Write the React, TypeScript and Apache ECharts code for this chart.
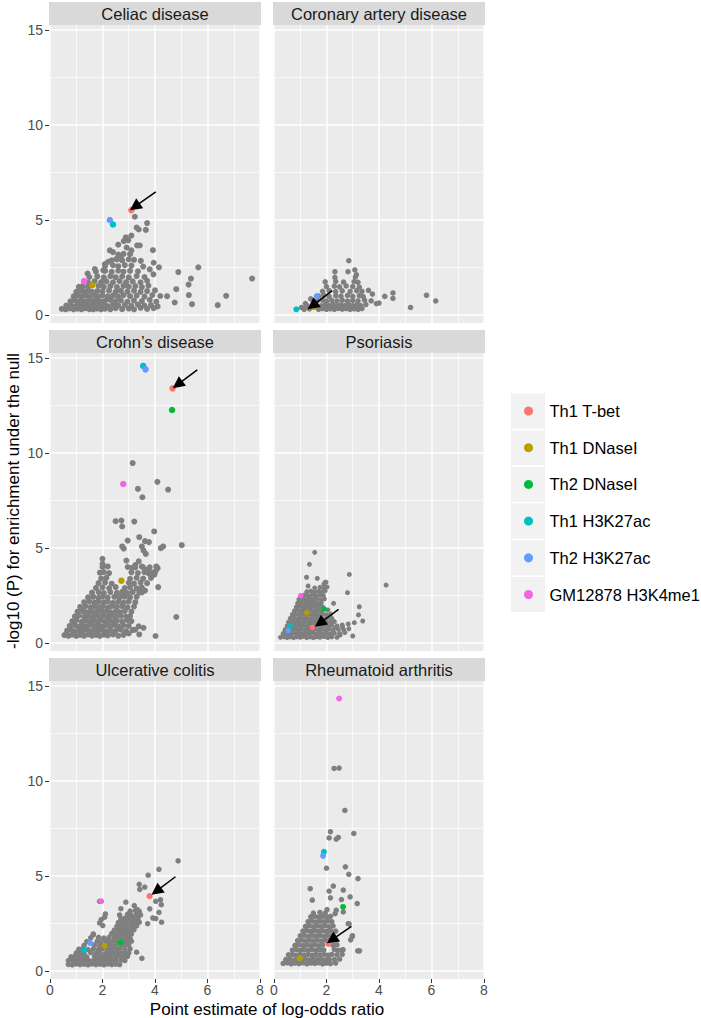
import React, { useEffect, useRef } from "react";
import * as echarts from "echarts";

const FONT = "'Liberation Sans', Arial, Helvetica, sans-serif";

// ---------- categories ----------
const facetNames = [
  "Celiac disease",
  "Coronary artery disease",
  "Crohn’s disease",
  "Psoriasis",
  "Ulcerative colitis",
  "Rheumatoid arthritis",
];

const categories = [
  "Th1 T-bet",
  "Th1 DNaseI",
  "Th2 DNaseI",
  "Th1 H3K27ac",
  "Th2 H3K27ac",
  "GM12878 H3K4me1",
];
const categoryColors = ["#F8766D", "#B79F00", "#00BA38", "#00BFC4", "#619CFF", "#F564E3"];

// ---------- axis ticks ----------
const xTickValues = [0, 2, 4, 6, 8];
const xMinorValues = [1, 3, 5, 7];
const yTickValues = [0, 5, 10, 15];
const yMinorValues = [2.5, 7.5, 12.5];

// ---------- grey points (log-odds, -log10 P) ----------
const celiacGrey = [
  [0.45,0.32],[0.6,0.3],[0.75,0.35],[0.9,0.3],[1.05,0.33],[1.2,0.3],[1.35,0.36],[1.5,0.31],[1.65,0.3],[1.8,0.34],[1.95,0.3],[2.1,0.33],[2.3,0.3],[2.5,0.36],[2.75,0.31],[3.0,0.34],[3.2,0.3],[3.45,0.38],[3.7,0.32],[3.95,0.36],[4.1,0.45],
  [0.62,0.5],[0.8,0.52],[1.0,0.48],[1.15,0.55],[1.3,0.5],[1.45,0.53],[1.6,0.48],[1.75,0.55],[1.9,0.5],[2.05,0.52],[2.2,0.47],[2.4,0.56],[2.6,0.5],[2.85,0.53],[3.1,0.48],[3.35,0.55],[3.6,0.5],[3.85,0.52],
  [0.78,0.72],[0.92,0.78],[1.05,0.7],[1.2,0.76],[1.35,0.72],[1.5,0.78],[1.65,0.73],[1.8,0.77],[1.95,0.7],[2.1,0.75],[2.3,0.8],[2.5,0.72],[2.7,0.77],[2.95,0.7],[3.2,0.76],[3.5,0.73],[3.8,0.8],[4.05,0.7],
  [0.9,0.98],[1.05,1.02],[1.2,0.97],[1.35,1.03],[1.5,0.98],[1.7,1.02],[1.85,0.96],[2.0,1.03],[2.2,0.98],[2.4,1.02],[2.6,0.97],[2.8,1.04],[3.05,0.99],[3.3,1.02],[3.6,0.97],[3.9,1.05],[4.2,1.0],
  [1.0,1.22],[1.15,1.27],[1.3,1.23],[1.45,1.28],[1.6,1.22],[1.8,1.26],[2.0,1.24],[2.25,1.28],[2.5,1.22],[2.7,1.27],[2.95,1.23],[3.2,1.28],[3.45,1.22],[3.7,1.26],[4.0,1.3],
  [1.1,1.48],[1.25,1.52],[1.45,1.47],[1.85,1.53],[2.05,1.48],[2.3,1.52],[2.55,1.47],[2.8,1.53],[3.0,1.49],[3.25,1.52],[3.5,1.47],[3.75,1.55],
  [1.45,1.72],[1.7,1.78],[1.95,1.73],[2.15,1.77],[2.4,1.72],[2.65,1.78],[2.9,1.73],[3.15,1.77],[3.45,1.72],[3.7,1.8],
  [1.5,2.0],[1.8,2.03],[2.05,1.98],[2.3,2.04],[2.5,1.99],[2.75,2.03],[3.0,1.98],[3.3,2.05],[3.6,2.0],
  [1.75,2.28],[2.1,2.32],[2.35,2.27],[2.6,2.33],[2.8,2.28],[3.05,2.32],[3.35,2.3],
  [2.1,2.58],[2.4,2.62],[2.6,2.57],[2.85,2.63],[3.1,2.6],
  [2.35,2.88],[2.55,2.92],[2.75,2.87],[3.0,2.93],[3.2,2.9],
  [2.6,3.18],[2.8,3.22],[3.05,3.2],
  [7.7,1.92],[6.71,1.01],[6.39,0.52],[5.65,2.51],[4.89,2.26],[5.37,1.92],[5.28,1.6],[5.29,1.05],[5.41,0.57],[4.81,1.36],[4.75,0.66],[4.46,0.99],
  [4.15,2.51],[3.95,2.75],[3.92,3.41],[3.94,2.14],[3.23,5.17],[3.7,4.84],[3.65,4.48],[3.3,4.6],[3.38,4.5],[3.1,4.18],[2.89,4.09],[2.81,3.89],
  [2.98,3.93],[3.32,3.66],[3.42,3.66],[3.1,3.4],[2.6,3.7],[2.28,3.4],[2.4,3.31],[2.92,3.55],[2.72,3.1],[2.53,2.95],[2.22,2.8],[2.09,2.68],
  [1.71,2.42],[2.03,2.35],[1.43,2.18],[3.46,2.85],[3.55,2.55],[3.8,2.4],
];

const coronaryGrey = [
  [1.05,0.4],[1.2,0.6],[1.4,0.85],
  [1.15,0.3],[1.35,0.33],[1.7,0.3],[1.85,0.34],[2.0,0.3],[2.15,0.33],[2.3,0.3],[2.45,0.35],[2.6,0.31],[2.75,0.34],[2.9,0.3],[3.05,0.33],[3.2,0.3],[3.35,0.34],
  [1.25,0.5],[1.6,0.52],[1.8,0.48],[1.95,0.53],[2.1,0.5],[2.25,0.54],[2.4,0.49],[2.55,0.53],[2.7,0.5],[2.85,0.54],[3.0,0.49],[3.15,0.53],[3.3,0.5],[3.5,0.55],
  [1.65,0.75],[1.85,0.78],[2.0,0.73],[2.2,0.77],[2.4,0.74],[2.6,0.78],[2.8,0.73],[3.0,0.77],[3.2,0.74],[3.45,0.78],[3.7,0.75],
  [1.7,1.0],[1.9,1.03],[2.1,0.98],[2.35,1.02],[2.55,0.99],[2.8,1.03],[3.0,0.98],[3.25,1.02],[3.4,0.97],
  [1.85,1.25],[2.1,1.28],[2.35,1.23],[2.6,1.27],[2.9,1.24],[3.15,1.28],[3.35,1.25],
  [2.0,1.5],[2.3,1.52],[2.5,1.48],[2.75,1.53],[3.0,1.5],[3.25,1.47],
  [1.95,1.75],[2.35,1.77],[2.65,1.73],[3.05,1.76],[3.2,1.72],
  [2.32,1.98],[3.1,2.0],
  [2.85,2.86],[2.32,2.28],[2.82,2.28],[3.08,2.37],[3.14,2.12],[4.53,1.16],[4.53,0.88],[4.22,0.98],[4.0,0.63],[5.2,0.4],[5.81,1.04],[6.16,0.74],
  [3.6,1.3],[3.75,1.1],[3.9,0.6],
];

const crohnsGrey = [
  [0.55,0.42],[0.7,0.38],[0.85,0.44],[1.0,0.37],[1.15,0.43],[1.3,0.38],[1.45,0.45],[1.6,0.39],[1.75,0.43],[1.9,0.37],[2.05,0.44],[2.2,0.4],[2.4,0.45],[2.6,0.38],[2.8,0.43],[3.0,0.5],[3.4,0.45],
  [0.65,0.65],[0.8,0.7],[0.95,0.62],[1.1,0.68],[1.25,0.64],[1.4,0.7],[1.55,0.63],[1.7,0.68],[1.85,0.65],[2.0,0.7],[2.15,0.62],[2.3,0.68],[2.5,0.64],[2.7,0.7],[2.9,0.63],[3.15,0.68],
  [0.75,0.9],[0.95,0.94],[1.1,0.87],[1.25,0.93],[1.4,0.88],[1.55,0.95],[1.7,0.89],[1.85,0.93],[2.0,0.87],[2.15,0.94],[2.3,0.9],[2.45,0.95],[2.6,0.88],[2.8,0.93],[3.0,0.9],
  [0.85,1.15],[1.0,1.2],[1.2,1.12],[1.35,1.18],[1.5,1.13],[1.65,1.2],[1.8,1.14],[1.95,1.18],[2.1,1.12],[2.25,1.19],[2.4,1.14],[2.55,1.18],[2.75,1.13],[2.95,1.2],[3.1,1.15],
  [0.95,1.4],[1.1,1.44],[1.3,1.38],[1.45,1.43],[1.6,1.37],[1.75,1.44],[1.9,1.39],[2.05,1.43],[2.2,1.38],[2.35,1.44],[2.5,1.4],[2.7,1.43],[2.9,1.38],[3.05,1.42],
  [1.05,1.65],[1.25,1.68],[1.4,1.62],[1.55,1.68],[1.7,1.63],[1.85,1.69],[2.0,1.64],[2.15,1.68],[2.3,1.62],[2.5,1.67],[2.65,1.63],[2.85,1.68],[3.1,1.65],
  [1.15,1.9],[1.35,1.93],[1.55,1.88],[1.7,1.94],[1.85,1.89],[2.0,1.93],[2.2,1.87],[2.35,1.93],[2.55,1.9],[2.75,1.94],[2.95,1.88],[3.2,1.92],
  [1.3,2.15],[1.5,2.18],[1.7,2.13],[1.85,2.19],[2.05,2.14],[2.2,2.18],[2.4,2.12],[2.6,2.17],[2.8,2.13],[3.0,2.18],[3.25,2.15],
  [1.45,2.4],[1.65,2.43],[1.85,2.38],[2.0,2.44],[2.2,2.39],[2.45,2.43],[2.65,2.38],[2.85,2.44],[3.05,2.4],[3.3,2.43],
  [1.6,2.65],[1.85,2.68],[2.05,2.63],[2.3,2.68],[2.55,2.64],[2.75,2.69],[2.95,2.63],[3.15,2.68],[3.4,2.65],
  [1.75,2.9],[2.0,2.93],[2.25,2.88],[2.5,2.94],[2.85,2.89],[3.05,2.93],[3.3,2.88],[3.5,2.92],
  [1.85,3.15],[2.1,3.18],[2.35,3.12],[3.0,3.17],[3.2,3.13],[3.45,3.18],[3.7,3.15],
  [1.95,3.4],[2.15,3.43],[3.05,3.38],[3.3,3.43],[3.55,3.39],[3.85,3.42],
  [1.9,3.7],[2.05,3.73],[2.25,3.68],[3.1,3.72],[3.35,3.68],[3.6,3.73],[3.9,3.7],
  [2.0,4.0],[2.2,4.03],[3.25,3.98],[3.5,4.02],[3.8,3.98],[4.05,4.03],
  [3.15,9.47],[4.09,8.48],[4.5,8.07],[3.35,8.11],[3.52,7.67],[2.5,6.41],[2.72,6.44],[2.75,6.13],[3.21,6.39],[3.97,5.87],[5.02,5.15],[2.96,5.39],
  [3.4,5.57],[3.62,5.36],[3.77,5.31],[3.5,5.08],[3.56,4.87],[3.65,4.69],[4.22,4.99],[4.31,5.08],[2.75,5.08],[2.81,4.97],[2.0,4.43],[2.0,4.17],
  [2.91,4.34],[3.38,4.3],[3.25,4.1],[3.12,3.95],[3.54,4.0],[3.7,3.85],[3.77,3.65],[4.1,3.94],[3.98,3.6],[4.02,3.77],[2.96,4.0],[4.12,2.94],
  [4.81,1.37],[4.02,0.37],[3.56,0.8],[3.38,0.88],[3.25,0.7],[3.62,2.76],[3.5,2.66],[3.38,2.83],[2.74,2.5],
];

const psoriasisGrey = [
  [0.25,0.3],[0.38,0.33],[0.5,0.29],[0.62,0.32],[0.75,0.28],[0.88,0.33],[1.0,0.3],[1.12,0.34],[1.25,0.29],[1.38,0.32],[1.5,0.28],[1.62,0.33],[1.75,0.3],[1.9,0.34],[2.05,0.29],[2.2,0.32],[2.4,0.3],
  [0.35,0.5],[0.48,0.53],[0.6,0.48],[0.72,0.52],[0.85,0.49],[0.98,0.53],[1.1,0.48],[1.22,0.52],[1.35,0.5],[1.48,0.54],[1.6,0.48],[1.72,0.52],[1.85,0.49],[2.0,0.53],[2.15,0.48],[2.3,0.52],[2.5,0.5],[2.7,0.55],
  [0.42,0.7],[0.55,0.73],[0.68,0.68],[0.8,0.72],[0.92,0.69],[1.05,0.73],[1.18,0.68],[1.3,0.72],[1.42,0.7],[1.55,0.74],[1.68,0.68],[1.8,0.72],[1.95,0.69],[2.1,0.73],[2.25,0.68],[2.45,0.72],[2.65,0.7],[2.85,0.75],
  [0.5,0.9],[0.62,0.93],[0.75,0.88],[0.88,0.92],[1.0,0.89],[1.12,0.93],[1.25,0.88],[1.38,0.92],[1.5,0.9],[1.62,0.94],[1.75,0.88],[1.9,0.92],[2.05,0.89],[2.2,0.93],[2.4,0.9],[2.6,0.95],
  [0.55,1.1],[0.7,1.13],[0.82,1.08],[0.95,1.12],[1.08,1.09],[1.2,1.13],[1.32,1.08],[1.45,1.12],[1.58,1.1],[1.7,1.14],[1.85,1.08],[2.0,1.12],[2.15,1.09],[2.3,1.13],
  [0.62,1.3],[0.75,1.33],[0.88,1.28],[1.0,1.32],[1.12,1.29],[1.25,1.33],[1.38,1.28],[1.5,1.32],[1.62,1.3],[1.75,1.34],[1.9,1.28],[2.05,1.32],[2.2,1.3],
  [0.7,1.5],[0.82,1.53],[0.95,1.48],[1.08,1.52],[1.2,1.49],[1.32,1.53],[1.45,1.48],[1.58,1.52],[1.7,1.5],[1.85,1.54],[2.0,1.48],[2.15,1.52],
  [0.78,1.7],[0.9,1.73],[1.02,1.68],[1.15,1.72],[1.28,1.69],[1.4,1.73],[1.52,1.68],[1.65,1.72],[1.78,1.7],[2.05,1.74],
  [0.85,1.9],[0.98,1.93],[1.1,1.88],[1.22,1.92],[1.35,1.89],[1.48,1.93],[1.6,1.88],[1.72,1.92],[1.85,1.9],
  [0.9,2.1],[1.05,2.13],[1.18,2.08],[1.3,2.12],[1.42,2.09],[1.55,2.13],[1.68,2.08],[1.8,2.12],
  [0.95,2.3],[1.12,2.33],[1.25,2.28],[1.38,2.32],[1.5,2.29],[1.62,2.33],[1.78,2.28],[1.92,2.32],
  [1.15,2.52],[1.3,2.48],[1.45,2.53],[1.6,2.49],[1.75,2.52],[1.88,2.5],
  [1.25,2.7],[1.4,2.73],[1.55,2.68],[1.7,2.72],[1.85,2.7],[1.95,2.75],
  [1.55,2.9],[1.75,2.93],[1.9,2.88],[1.9,3.1],[1.95,3.2],
  [1.55,4.77],[1.35,4.14],[1.24,3.46],[2.87,3.61],[4.27,3.05],[2.8,2.65],[3.25,1.91],[3.22,1.48],[3.38,1.16],[3.06,1.07],[2.83,1.0],[2.61,0.86],
  [2.36,0.82],[2.52,0.42],[3.0,0.37],[2.27,2.09],[1.3,3.0],[1.65,3.4],[1.98,3.2],[2.02,2.95],
];

const ulcerativeGrey = [
  [0.7,0.35],[0.85,0.33],[1.0,0.37],[1.15,0.34],[1.3,0.36],[1.45,0.33],[1.6,0.37],[1.75,0.34],[1.9,0.36],[2.05,0.33],[2.2,0.37],[2.35,0.34],[2.5,0.36],[2.65,0.34],
  [0.7,0.55],[0.85,0.57],[1.0,0.53],[1.15,0.56],[1.3,0.54],[1.45,0.57],[1.6,0.53],[1.75,0.56],[1.9,0.54],[2.05,0.57],[2.2,0.53],[2.35,0.56],[2.5,0.54],[2.7,0.57],[2.85,0.55],
  [0.8,0.75],[0.95,0.78],[1.1,0.73],[1.25,0.77],[1.4,0.74],[1.7,0.77],[1.85,0.73],[2.0,0.78],[2.15,0.74],[2.3,0.77],[2.5,0.73],[2.65,0.78],[2.8,0.74],[2.95,0.77],
  [1.0,0.95],[1.15,0.98],[1.3,0.93],[1.55,0.97],[1.75,0.94],[1.9,0.98],[2.1,0.93],[2.25,0.97],[2.4,0.94],[2.55,0.98],[2.7,0.93],[2.85,0.97],[3.0,0.95],
  [1.1,1.15],[1.25,1.18],[1.45,1.13],[1.65,1.17],[1.85,1.14],[2.0,1.18],[2.2,1.13],[2.35,1.17],[2.5,1.14],[2.65,1.18],[2.85,1.13],[3.05,1.17],
  [1.3,1.35],[1.7,1.37],[1.9,1.33],[2.2,1.37],[2.35,1.34],[2.5,1.38],[2.7,1.33],[2.85,1.37],[3.0,1.35],
  [1.4,1.55],[1.8,1.57],[1.95,1.53],[2.15,1.57],[2.3,1.54],[2.45,1.58],[2.6,1.53],[2.8,1.57],[2.95,1.54],[3.1,1.57],
  [1.55,1.75],[1.85,1.77],[2.05,1.73],[2.25,1.77],[2.45,1.74],[2.6,1.78],[2.75,1.73],[2.9,1.77],[3.05,1.75],
  [1.65,1.95],[2.35,1.97],[2.5,1.93],[2.65,1.97],[2.8,1.94],[2.95,1.98],[3.1,1.95],
  [2.45,2.15],[2.6,2.18],[2.75,2.13],[2.9,2.17],[3.05,2.14],[3.2,2.17],
  [2.55,2.35],[2.7,2.38],[2.85,2.33],[3.0,2.37],[3.15,2.34],[3.3,2.37],
  [2.6,2.55],[2.75,2.58],[2.9,2.53],[3.1,2.57],[3.25,2.54],[3.4,2.57],
  [2.7,2.75],[2.85,2.78],[3.0,2.73],[3.2,2.77],[3.35,2.75],
  [2.65,2.95],[2.95,2.98],[3.1,2.93],[3.3,2.97],[3.45,2.95],
  [3.05,3.15],[3.25,3.18],[3.4,3.14],
  [4.88,5.8],[4.15,5.35],[3.74,5.04],[3.4,4.56],[3.42,4.29],[3.61,4.42],[1.89,3.67],[4.03,3.67],[4.21,3.75],[4.24,3.49],[4.15,3.08],[4.03,2.76],
  [3.8,3.27],[3.92,2.79],[3.72,2.49],[4.25,2.57],[2.89,3.62],[2.7,3.28],[3.21,3.44],[3.33,3.23],[3.4,2.97],[3.08,2.88],[2.11,3.0],[2.08,2.83],
  [1.95,2.7],[1.89,2.53],[2.01,2.39],[3.3,0.99],[3.5,0.67],[1.65,1.9],
];

const rheumatoidGrey = [
  [0.35,0.4],[0.5,0.43],[0.65,0.38],[0.8,0.42],[0.95,0.39],[1.1,0.43],[1.25,0.38],[1.4,0.42],[1.55,0.4],[1.7,0.43],[1.85,0.38],[2.0,0.42],[2.15,0.39],[2.35,0.42],
  [0.45,0.6],[0.6,0.63],[0.75,0.58],[0.9,0.62],[1.05,0.59],[1.2,0.63],[1.35,0.58],[1.5,0.62],[1.65,0.6],[1.8,0.63],[1.95,0.58],[2.1,0.62],[2.3,0.6],[2.5,0.63],
  [0.55,0.85],[0.7,0.88],[0.85,0.83],[1.0,0.87],[1.15,0.84],[1.3,0.88],[1.45,0.83],[1.6,0.87],[1.75,0.85],[1.9,0.88],[2.05,0.83],[2.2,0.87],[2.4,0.85],[2.6,0.88],
  [0.7,1.1],[0.85,1.13],[1.0,1.08],[1.15,1.12],[1.3,1.09],[1.45,1.13],[1.6,1.08],[1.75,1.12],[1.9,1.1],[2.3,1.13],[2.45,1.08],
  [0.8,1.35],[0.95,1.38],[1.1,1.33],[1.25,1.37],[1.4,1.34],[1.55,1.38],[1.7,1.33],[1.85,1.37],[2.25,1.35],[2.4,1.38],
  [0.9,1.6],[1.05,1.63],[1.2,1.58],[1.35,1.62],[1.5,1.59],[1.65,1.63],[1.8,1.58],[1.95,1.62],[2.1,1.6],[2.3,1.63],
  [1.0,1.85],[1.15,1.88],[1.3,1.83],[1.45,1.87],[1.6,1.84],[1.75,1.88],[1.9,1.83],[2.05,1.87],[2.2,1.85],
  [1.1,2.1],[1.25,2.13],[1.4,2.08],[1.55,2.12],[1.7,2.09],[1.85,2.13],[2.0,2.08],[2.15,2.12],[2.35,2.1],
  [1.2,2.35],[1.35,2.38],[1.5,2.33],[1.65,2.37],[1.8,2.34],[1.95,2.38],[2.1,2.33],[2.25,2.37],
  [1.3,2.6],[1.45,2.63],[1.6,2.58],[1.75,2.62],[1.9,2.59],[2.05,2.63],[2.2,2.6],
  [1.4,2.85],[1.55,2.88],[1.7,2.83],[1.85,2.87],[2.0,2.84],[2.15,2.88],
  [1.5,3.05],[1.75,3.08],[1.95,3.04],
  [2.29,10.66],[2.48,10.68],[2.7,8.45],[2.15,7.33],[2.1,7.0],[2.37,6.94],[2.45,7.03],[3.04,7.24],[2.0,5.41],[2.72,5.48],[2.85,5.09],[3.2,4.86],
  [2.26,4.47],[1.38,4.33],[1.46,3.73],[2.64,4.26],[2.57,3.76],[2.9,3.9],[3.17,3.55],[2.37,3.2],[2.33,3.02],[2.02,3.23],[2.83,2.49],[2.98,1.82],
  [2.92,1.64],[3.19,1.06],[3.26,1.06],[2.6,1.11],[2.64,3.11],[2.86,2.48],[2.99,1.86],[2.63,1.12],[2.1,4.2],[2.15,3.85],
];

const greyByFacet = [celiacGrey, coronaryGrey, crohnsGrey, psoriasisGrey, ulcerativeGrey, rheumatoidGrey];

// ---------- highlighted annotation points (one per category, null = not shown) ----------
const celiacHighlight = [[3.1, 5.52], [1.61, 1.57], null, [2.4, 4.76], [2.28, 5.0], [1.3, 1.78]];
const coronaryHighlight = [[1.45, 0.45], [1.53, 0.42], null, [0.85, 0.3], [1.63, 1.0], null];
const crohnsHighlight = [[4.67, 13.4], [2.72, 3.28], [4.65, 12.26], [3.55, 14.58], [3.64, 14.4], [2.79, 8.37]];
const psoriasisHighlight = [[1.46, 0.82], [1.25, 1.6], [1.91, 1.79], [0.61, 0.86], [0.54, 0.65], [1.02, 2.49]];
const ulcerativeHighlight = [[3.79, 3.94], [2.08, 1.33], [2.68, 1.5], [1.3, 1.11], [1.53, 1.47], [1.95, 3.67]];
const rheumatoidHighlight = [[2.07, 1.43], [0.98, 0.67], [2.63, 3.37], [1.9, 6.27], [1.87, 6.06], [2.48, 14.34]];
const highlightByFacet = [celiacHighlight, coronaryHighlight, crohnsHighlight, psoriasisHighlight, ulcerativeHighlight, rheumatoidHighlight];

// ---------- arrows (data coordinates) ----------
const arrowTails = [[4.03, 6.48], [2.22, 1.28], [5.61, 14.37], [2.46, 1.77], [4.78, 4.96], [2.95, 2.35]];
const arrowTips = [[3.23, 5.7], [1.46, 0.49], [4.86, 13.6], [1.74, 1.04], [4.05, 4.2], [2.2, 1.64]];

// ---------- layout / style ----------
const X_MIN = -0.038;
const X_MAX = 8.038;
const Y_MIN = -0.42;
const Y_MAX = 15.26;
const COL_LEFT = [49, 273];
const ROW_TOP = [25, 353, 681];
const PANEL_W = 212;
const PANEL_H = 298;
const STRIP_H = 23;
const pointSizes = [6, 5.5, 6, 5, 5.5, 5.5];

function buildOption() {
  const grids: any[] = [];
  const xAxes: any[] = [];
  const yAxes: any[] = [];
  const series: any[] = [];
  const graphics: any[] = [];

  facetNames.forEach((name, i) => {
    const col = i % 2;
    const row = Math.floor(i / 2);
    const left = COL_LEFT[col];
    const top = ROW_TOP[row];
    grids.push({
      left, top, width: PANEL_W, height: PANEL_H,
      show: true, backgroundColor: "#EBEBEB", borderWidth: 0,
    });
    xAxes.push({
      type: "value", gridIndex: i, min: X_MIN, max: X_MAX,
      axisLine: { show: false, onZero: false },
      splitLine: { show: false },
      axisTick: { show: row === 2, customValues: xTickValues, length: 4, lineStyle: { color: "#333333", width: 1 } },
      axisLabel: { show: row === 2, customValues: xTickValues, color: "#4D4D4D", fontSize: 14, margin: 4, fontFamily: FONT },
    });
    yAxes.push({
      type: "value", gridIndex: i, min: Y_MIN, max: Y_MAX,
      axisLine: { show: false, onZero: false },
      splitLine: { show: false },
      axisTick: { show: col === 0, customValues: yTickValues, length: 4, lineStyle: { color: "#333333", width: 1 } },
      axisLabel: { show: col === 0, customValues: yTickValues, color: "#4D4D4D", fontSize: 14, margin: 6, fontFamily: FONT },
    });

    const gridLines = [
      ...xMinorValues.map((v) => ({ coords: [[v, Y_MIN], [v, Y_MAX]], lineStyle: { width: 0.7 } })),
      ...yMinorValues.map((v) => ({ coords: [[X_MIN, v], [X_MAX, v]], lineStyle: { width: 0.7 } })),
      ...xTickValues.map((v) => ({ coords: [[v, Y_MIN], [v, Y_MAX]], lineStyle: { width: 1.5 } })),
      ...yTickValues.map((v) => ({ coords: [[X_MIN, v], [X_MAX, v]], lineStyle: { width: 1.5 } })),
    ];
    series.push({
      type: "lines", coordinateSystem: "cartesian2d", xAxisIndex: i, yAxisIndex: i,
      silent: true, z: 1, symbol: "none",
      lineStyle: { color: "#FFFFFF", opacity: 1, width: 1.5 },
      data: gridLines,
    });
    series.push({
      type: "scatter", name: "other", xAxisIndex: i, yAxisIndex: i,
      data: greyByFacet[i], symbolSize: pointSizes[i], silent: true, z: 3,
      itemStyle: { color: "#7F7F7F", opacity: 1 },
    });
    categories.forEach((c, k) => {
      const p = highlightByFacet[i][k];
      series.push({
        type: "scatter", name: c, xAxisIndex: i, yAxisIndex: i,
        data: p ? [p] : [], symbolSize: pointSizes[i] + 0.5, silent: true, z: 4,
        itemStyle: { color: categoryColors[k], opacity: 1 },
      });
    });
    series.push({
      type: "lines", coordinateSystem: "cartesian2d", xAxisIndex: i, yAxisIndex: i,
      silent: true, z: 6, symbol: ["none", "triangle"], symbolSize: 12,
      lineStyle: { color: "#000000", opacity: 1, width: 1.5 },
      data: [{ coords: [arrowTails[i], arrowTips[i]] }],
    });

    graphics.push({
      type: "rect", silent: true,
      shape: { x: left, y: top - STRIP_H, width: PANEL_W, height: STRIP_H },
      style: { fill: "#D9D9D9" },
    });
    graphics.push({
      type: "text", silent: true,
      x: left + PANEL_W / 2, y: top - STRIP_H / 2,
      style: { text: name, fill: "#1A1A1A", fontSize: 16.5, fontFamily: FONT, align: "center", verticalAlign: "middle" },
    });
  });

  // legend key backgrounds
  categories.forEach((c, k) => {
    graphics.push({
      type: "rect", silent: true,
      shape: { x: 511, y: 393.5 + k * 36.7, width: 34, height: 35 },
      style: { fill: "#F2F2F2" },
    });
  });

  graphics.push({
    type: "text", silent: true, x: 267, y: 1009,
    style: { text: "Point estimate of log-odds ratio", fill: "#000000", fontSize: 17, fontFamily: FONT, align: "center", verticalAlign: "middle" },
  });
  graphics.push({
    type: "text", silent: true, x: 13, y: 501, rotation: Math.PI / 2,
    style: { text: "-log10 (P) for enrichment under the null", fill: "#000000", fontSize: 17, fontFamily: FONT, align: "center", verticalAlign: "middle" },
  });

  return {
    animation: false,
    backgroundColor: "#FFFFFF",
    grid: grids,
    xAxis: xAxes,
    yAxis: yAxes,
    series,
    graphic: graphics,
    legend: {
      data: categories.map((c) => ({ name: c, icon: "circle" })),
      orient: "vertical",
      left: 524,
      top: 402,
      padding: 0,
      itemWidth: 32,
      itemHeight: 9,
      itemGap: 18.7,
      selectedMode: false,
      textStyle: { fontSize: 16.5, color: "#000000", fontFamily: FONT, lineHeight: 18 },
    },
  };
}

export default function App() {
  const ref = useRef<HTMLDivElement>(null);
  useEffect(() => {
    if (!ref.current) return;
    const chart = echarts.init(ref.current, null, { renderer: "svg" });
    chart.setOption(buildOption() as any);
    return () => chart.dispose();
  }, []);
  return (
    <div
      ref={ref}
      style={{ position: "absolute", left: 0, top: 0, width: 701, height: 1018, background: "#FFFFFF" }}
    />
  );
}
